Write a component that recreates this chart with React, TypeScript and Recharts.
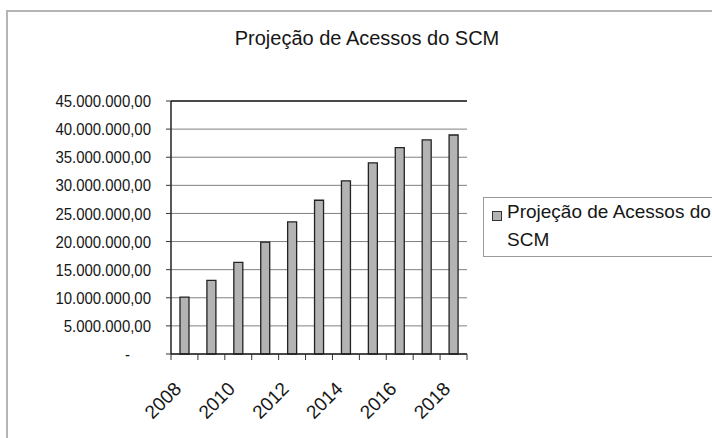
import { BarChart, Bar, XAxis, YAxis, CartesianGrid, ReferenceLine } from 'recharts'

// ── Data ──────────────────────────────────────────────────────────────────────

const TITLE = 'Projeção de Acessos do SCM'
const SERIES_NAME = 'Projeção de Acessos do SCM'

const years = ['2008', '2009', '2010', '2011', '2012', '2013', '2014', '2015', '2016', '2017', '2018']
const acessos = [
  10100000, 13100000, 16300000, 19900000, 23500000, 27350000, 30800000, 34000000, 36700000, 38100000,
  38950000,
]
const yTicks = [0, 5000000, 10000000, 15000000, 20000000, 25000000, 30000000, 35000000, 40000000, 45000000]

const data = years.map((year, i) => ({ year, acessos: acessos[i] }))

// ── Style ─────────────────────────────────────────────────────────────────────

const FONT = '"Liberation Sans", Arial, sans-serif'
const INK = '#161616'
const BAR_FILL = '#b3b3b3'
const GRID = '#808080'

function formatBR(v: number) {
  if (v === 0) return '-'
  const [int, dec] = v.toFixed(2).split('.')
  return int.replace(/\B(?=(\d{3})+(?!\d))/g, '.') + ',' + dec
}

function YTick({ x, y, payload }: any) {
  const zero = payload.value === 0
  return (
    <g transform={`translate(${zero ? x - 21 : x},${y})`}>
      <text transform="scale(0.88,1)" textAnchor="end" dy="0.36em" fontSize={17} fill={INK} fontFamily={FONT}>
        {formatBR(payload.value)}
      </text>
    </g>
  )
}

function XTick({ x, y, payload, index, visibleTicksCount }: any) {
  const half = payload.offset ?? 13.45
  return (
    <g>
      <line x1={x - half} x2={x - half} y1={y} y2={y + 6} stroke="#333" />
      {index === visibleTicksCount - 1 && <line x1={x + half} x2={x + half} y1={y} y2={y + 6} stroke="#333" />}
      {index % 2 === 0 && (
        <text
          transform={`translate(${x - 2},${y + 36}) rotate(-45)`}
          textAnchor="end"
          fontSize={19}
          fill={INK}
          fontFamily={FONT}
        >
          {payload.value}
        </text>
      )}
    </g>
  )
}

export default function App() {
  return (
    <div
      style={{
        position: 'absolute',
        left: 0,
        top: 0,
        width: 712,
        height: 438,
        overflow: 'hidden',
        background: '#fff',
        fontFamily: FONT,
        color: INK,
      }}
    >
      <div
        style={{
          position: 'absolute',
          left: 6,
          top: 10,
          width: 800,
          height: 500,
          borderTop: '2px solid #b5b5b5',
          borderLeft: '2px solid #b5b5b5',
        }}
      />
      <div
        style={{
          position: 'absolute',
          left: 0,
          top: 28,
          width: 734,
          textAlign: 'center',
          fontSize: 20,
          lineHeight: '20px',
          whiteSpace: 'nowrap',
        }}
      >
        {TITLE}
      </div>

      <div style={{ position: 'absolute', left: 0, top: 0 }}>
        <BarChart width={712} height={438} data={data} margin={{ top: 101, right: 245, bottom: 0, left: 0 }}>
          <CartesianGrid horizontal vertical={false} stroke={GRID} />
          <XAxis
            dataKey="year"
            height={84}
            interval={0}
            tickSize={0}
            tickMargin={0}
            tickLine={false}
            axisLine={{ stroke: '#222', strokeWidth: 1.5 }}
            tick={<XTick />}
          />
          <YAxis
            width={171}
            domain={[0, 45000000]}
            ticks={yTicks}
            interval={0}
            tickSize={5}
            tickMargin={15}
            tickLine={{ stroke: '#333' }}
            axisLine={{ stroke: '#222', strokeWidth: 1.5 }}
            tick={<YTick />}
          />
          <YAxis
            yAxisId="right"
            orientation="right"
            width={0}
            domain={[0, 45000000]}
            tick={false}
            tickLine={false}
            axisLine={{ stroke: '#222', strokeWidth: 1.5 }}
          />
          <ReferenceLine y={45000000} stroke="#222" strokeWidth={1.5} />
          <Bar
            dataKey="acessos"
            name={SERIES_NAME}
            fill={BAR_FILL}
            stroke="#222"
            strokeWidth={1.3}
            barSize={9}
            isAnimationActive={false}
          />
        </BarChart>
      </div>

      <div
        style={{
          position: 'absolute',
          left: 483,
          top: 197,
          width: 260,
          height: 60,
          border: '1px solid #9a9a9a',
          boxSizing: 'border-box',
        }}
      />
      <div
        style={{
          position: 'absolute',
          left: 492,
          top: 211,
          width: 10,
          height: 10,
          border: '1px solid #333',
          background: BAR_FILL,
          boxSizing: 'border-box',
        }}
      />
      <div
        style={{
          position: 'absolute',
          left: 507,
          top: 198,
          width: 222,
          fontSize: 19,
          lineHeight: '28px',
        }}
      >
        {SERIES_NAME}
      </div>
    </div>
  )
}
